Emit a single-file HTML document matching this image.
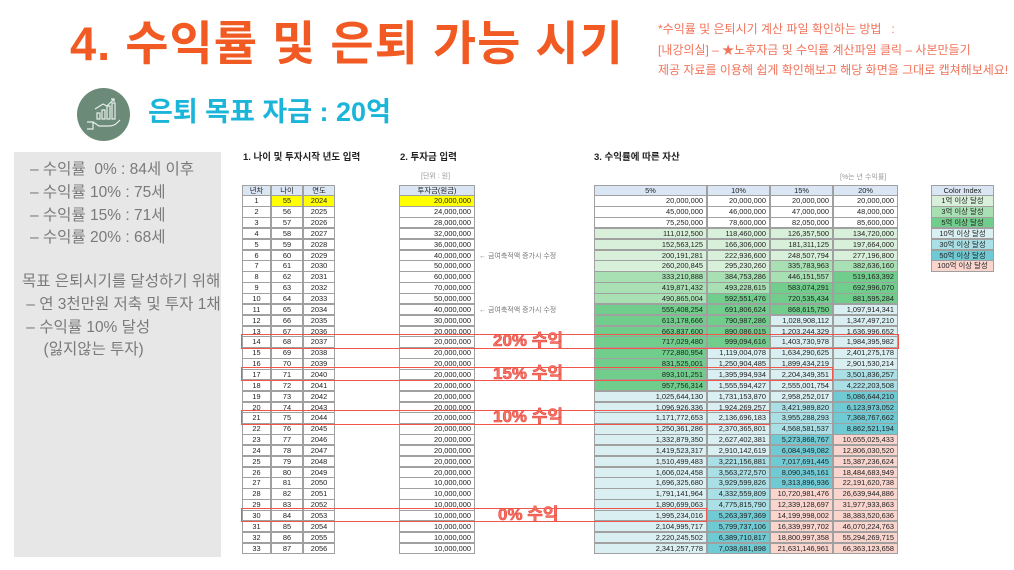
<!DOCTYPE html>
<html><head><meta charset="utf-8">
<style>
*{margin:0;padding:0;box-sizing:border-box}
body{width:1014px;height:570px;background:#fff;position:relative;overflow:hidden;font-family:"Liberation Sans","Noto Sans CJK KR",sans-serif}
.a{position:absolute;white-space:nowrap}
.c{position:absolute;border:0.6px solid #a0a0a0;font-size:7.4px;line-height:10px;color:#222;overflow:hidden;white-space:nowrap}
.r{text-align:right;padding-right:3px}
.m{text-align:center}
.h{background:#dbe6f5}
.rb{position:absolute;border:1.6px solid #f0564a}
.lab{position:absolute;font-size:17px;font-weight:bold;color:#f47366;-webkit-text-stroke:0.6px #e8473c;white-space:nowrap;line-height:17px}
.lp{font-size:15.5px;color:#7a7a7a;line-height:22.8px}
</style></head><body>
<div class="a" style="left:70px;top:14px;font-size:47px;font-weight:bold;color:#f15a22;line-height:60px;letter-spacing:1px">4. 수익률 및 은퇴 가능 시기</div>
<div class="a" style="left:658px;top:19px;font-size:12px;line-height:20.5px;color:#f0735a">*수익률 및 은퇴시기 계산 파일 확인하는 방법 &nbsp; :<br>[내강의실] – ★노후자금 및 수익률 계산파일 클릭 – 사본만들기<br>제공 자료를 이용해 쉽게 확인해보고 해당 화면을 그대로 캡쳐해보세요!</div>
<div class="a" style="left:77px;top:88px;width:53px;height:53px;border-radius:50%;background:#6b8a77"></div>
<svg class="a" style="left:83px;top:95px" width="42" height="40" viewBox="0 0 42 40" fill="none" stroke="#e8efe9" stroke-width="1.2">
<rect x="14" y="18" width="3" height="6"/><rect x="19" y="15" width="3" height="9"/><rect x="24" y="11" width="3" height="13"/><rect x="29" y="8" width="3" height="16"/>
<path d="M12 14 L20 9 L24 11 L31 4 M28 4 L31 4 L31 7"/><path d="M4 27 L10 27 L16 31 L26 31 C32 31 34 28 37 25 M10 27 L10 34 L4 34"/></svg>
<div class="a" style="left:148px;top:94px;font-size:27px;font-weight:bold;color:#1bb5d9;line-height:36px">은퇴 목표 자금 : 20억</div>
<div class="a" style="left:14px;top:152px;width:207px;height:405px;background:#e7e7e7"></div>
<div class="a lp" style="left:30px;top:159px">– 수익률 &nbsp;0% : 84세 이후<br>– 수익률 10% : 75세<br>– 수익률 15% : 71세<br>– 수익률 20% : 68세</div>
<div class="a lp" style="left:22px;top:271px">목표 은퇴시기를 달성하기 위해<br>&nbsp;– 연 3천만원 저축 및 투자 1채<br>&nbsp;– 수익률 10% 달성<br>&nbsp; &nbsp; &nbsp;(잃지않는 투자)</div>
<div class="a" style="left:243px;top:149px;font-size:9.5px;font-weight:bold;color:#222">1. 나이 및 투자시작 년도 입력</div>
<div class="a" style="left:400px;top:149px;font-size:9.5px;font-weight:bold;color:#222">2. 투자금 입력</div>
<div class="a" style="left:594px;top:149px;font-size:9.5px;font-weight:bold;color:#222">3. 수익률에 따른 자산</div>
<div class="a" style="left:421px;top:171px;font-size:7px;color:#999">[단위 : 원]</div>
<div class="a" style="left:840px;top:172px;font-size:7px;color:#999">[%는 년 수익률]</div>
<div id="t"></div>
<script>
var T=184.5,H=10.85,out='';
function cell(x,y,w,txt,cls,bg){out+='<div class="c '+cls+'" style="left:'+x+'px;top:'+y+'px;width:'+w+'px;height:'+(H+0.6)+'px;'+(bg?'background:'+bg:'')+'">'+txt+'</div>';}
var inv=[20,24,28,32,36,40,50,60,70,50,40,30];for(var i=12;i<26;i++)inv.push(20);for(i=26;i<33;i++)inv.push(10);
var cols=[[594,113,.05],[707,63,.10],[770,63,.15],[833,65,.20]];
cell(242,T,29,'년차','m h');cell(271,T,32,'나이','m h');cell(303,T,32,'연도','m h');
cell(399,T,76,'투자금(원금)','m h');
cell(594,T,113,'5%','m h');cell(707,T,63,'10%','m h');cell(770,T,63,'15%','m h');cell(833,T,65,'20%','m h');
function col(v){var e=v/1e8;if(e<1)return'#fff';if(e<3)return'#d8f0da';if(e<5)return'#a9e0b3';if(e<10)return'#70cd8b';if(e<30)return'#daeff2';if(e<50)return'#a9dfe5';if(e<100)return'#6fcad4';return'#f9d5ce';}
function f(v){return Math.round(v).toLocaleString('en-US');}
var V=[0,0,0,0];
for(i=0;i<33;i++){var y=T+(i+1)*H;
cell(242,y,29,i+1,'m');cell(271,y,32,55+i,'m',i==0?'#ffff00':'');cell(303,y,32,2024+i,'m',i==0?'#ffff00':'');
cell(399,y,76,f(inv[i]*1e6),'r',i==0?'#ffff00':'');
for(var k=0;k<4;k++){V[k]=V[k]*(1+cols[k][2])+inv[i]*1e6;if(i==0)V[k]=inv[0]*1e6;cell(cols[k][0],y,cols[k][1],f(V[k]),'r',col(V[k]));}}
var ci=[['Color Index','#dbe6f5'],['1억 이상 달성','#d8f0da'],['3억 이상 달성','#a9e0b3'],['5억 이상 달성','#70cd8b'],['10억 이상 달성','#daeff2'],['30억 이상 달성','#a9dfe5'],['50억 이상 달성','#6fcad4'],['100억 이상 달성','#f9d5ce']];
for(i=0;i<8;i++)cell(931,T+i*H,63,ci[i][0],'m',ci[i][1]);
out+='<div class="a" style="left:479px;top:'+(T+6*H+1)+'px;font-size:7px;color:#777">← 금여축적액 증가시 수정</div>';
out+='<div class="a" style="left:479px;top:'+(T+11*H+1)+'px;font-size:7px;color:#777">← 금여축적액 증가시 수정</div>';
var bx=[[14,899,'20% 수익',493],[17,833,'15% 수익',493],[21,770,'10% 수익',493],[30,707,'0% 수익',498]];
for(i=0;i<4;i++){var y=T+bx[i][0]*H-2;out+='<div class="rb" style="left:241px;top:'+y+'px;width:'+(bx[i][1]-241)+'px;height:'+(H+3.5)+'px"></div>';
out+='<div class="lab" style="left:'+bx[i][3]+'px;top:'+(y-2)+'px">'+bx[i][2]+'</div>';}
document.getElementById('t').innerHTML=out;
</script>
</body></html>
